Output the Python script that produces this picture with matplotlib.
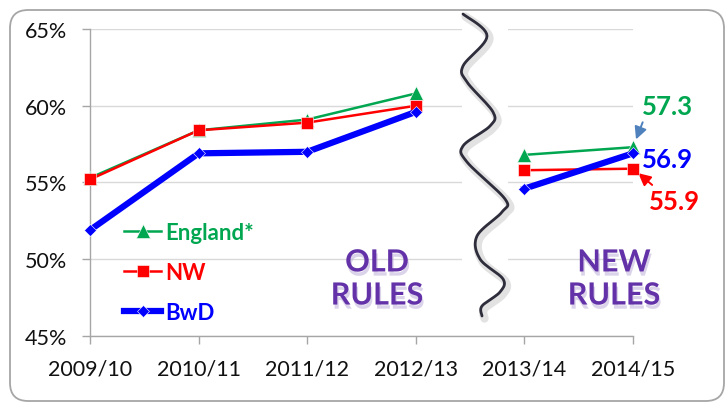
import numpy as np
import matplotlib
matplotlib.use("Agg")
import matplotlib.pyplot as plt
import matplotlib.patheffects as pe
from matplotlib.patches import FancyBboxPatch, Rectangle
from matplotlib.ticker import FuncFormatter

# ---- data -------------------------------------------------------------
years = ["2009/10", "2010/11", "2011/12", "2012/13", "2013/14", "2014/15"]
england = [55.3, 58.4, 59.1, 60.8, 56.8, 57.3]
nw = [55.2, 58.4, 58.9, 60.0, 55.8, 55.9]
bwd = [51.9, 56.9, 57.0, 59.6, 54.6, 56.9]
y_ticks = [45, 50, 55, 60, 65]
old_idx = [0, 1, 2, 3]   # years counted under the old rules
new_idx = [4, 5]         # years counted under the new rules

GREEN = "#00A650"
RED = "#FF0000"
BLUE = "#0000FF"
PURPLE = "#6332A8"

plt.rcParams["font.family"] = ["Lato", "DejaVu Sans"]

W, H = 726, 406
fig = plt.figure(figsize=(W / 100, H / 100), dpi=100)
fig.patch.set_facecolor("white")

def fx(px):
    return px / W

def fy(py):
    return 1 - py / H

ax = fig.add_axes([fx(90), fy(337), fx(633) - fx(90), fy(30) - fy(337)])
x = np.arange(len(years))

series = [
    ("England*", england, GREEN, "^", 9.5, 1.8),
    ("NW", nw, RED, "s", 8.5, 1.8),
    ("BwD", bwd, BLUE, "D", 6.0, 4.5),
]
handles = []
for z, (label, vals, col, mk, ms, lw) in enumerate(series):
    vals = np.asarray(vals)
    for k, idx in enumerate((old_idx, new_idx)):
        ln, = ax.plot(x[idx], vals[idx], color=col, lw=lw, marker=mk, ms=ms,
                      mec="white", mew=0.4, zorder=3 + z, clip_on=False,
                      label=label if k == 0 else None)
        if k == 0:
            handles.append(ln)

ax.set_xlim(0, 5)
ax.set_ylim(45, 65)
ax.set_xticks(x)
ax.set_xticklabels(years)
ax.set_yticks(y_ticks)
ax.yaxis.set_major_formatter(FuncFormatter(lambda v, p: f"{v:.0f}%"))
ax.tick_params(axis="both", labelsize=15.5, colors="#A6A6A6", labelcolor="#111111",
               length=5.5, width=1)
ax.tick_params(axis="y", pad=11)
ax.tick_params(axis="x", pad=11)
ax.grid(axis="y", color="#D9D9D9", lw=1)
ax.set_axisbelow(True)
for s in ("top", "right"):
    ax.spines[s].set_visible(False)
for s in ("left", "bottom"):
    ax.spines[s].set_color("#A6A6A6")
    ax.spines[s].set_linewidth(1)

# white band that breaks the gridlines where the timeline is cut
ax.add_patch(Rectangle((fx(462), fy(334)), fx(508) - fx(462), fy(12) - fy(334),
                       transform=fig.transFigure, facecolor="white",
                       edgecolor="none", zorder=1, clip_on=False))

# legend inside the plot
leg = ax.legend(handles=handles, loc="upper left", bbox_to_anchor=(0.062, 0.372),
                frameon=False, borderpad=0, borderaxespad=0, handlelength=1.7,
                handletextpad=0.15, labelspacing=0.85, numpoints=1,
                prop={"weight": "bold", "size": 16}, labelcolor="linecolor")

# wavy break between the old and the new rules
wave_pts = np.array([(463, 15), (487, 37), (463, 67), (467, 83), (493, 113),
                     (490, 127), (463, 147), (467, 163), (505, 200), (502, 213),
                     (477, 237), (480, 260), (503, 280), (500, 293), (482, 307),
                     (482, 317)], dtype=float)

def catmull_rom(p, n=12):
    p = np.vstack([p[0], p, p[-1]])
    out = []
    for i in range(1, len(p) - 2):
        p0, p1, p2, p3 = p[i - 1], p[i], p[i + 1], p[i + 2]
        t = np.linspace(0, 1, n, endpoint=False)[:, None]
        out.append(0.5 * ((2 * p1) + (-p0 + p2) * t + (2 * p0 - 5 * p1 + 4 * p2 - p3) * t ** 2
                          + (-p0 + 3 * p1 - 3 * p2 + p3) * t ** 3))
    out.append(p[-2][None, :])
    return np.vstack(out)

curve = catmull_rom(wave_pts)
cx, cy = fx(curve[:, 0]), fy(curve[:, 1])
fig.add_artist(plt.Line2D(cx + fx(2.5), cy - 2.5 / H, transform=fig.transFigure,
                          color="#CFCFCF", lw=6, alpha=0.6, solid_capstyle="round", zorder=5))
fig.add_artist(plt.Line2D(cx, cy, transform=fig.transFigure, color="#2E2D3C",
                          lw=2.0, solid_capstyle="round", zorder=6))

# "OLD RULES" / "NEW RULES" captions
rule_fx = [pe.SimplePatchShadow(offset=(1.0, -3), shadow_rgbFace="#B8A8D4", alpha=0.5),
           pe.Normal()]
for cx_, label in ((377, "OLD\nRULES"), (614, "NEW\nRULES")):
    fig.text(fx(cx_), fy(280), label, ha="center", va="center", fontsize=22,
             fontweight="bold", color=PURPLE, linespacing=1.22, path_effects=rule_fx)

# value call-outs for the latest year
last = len(years) - 1
ax.annotate(f"{england[last]:.1f}", xy=(last, england[last]), xytext=(25, 29.5),
            textcoords="offset points", ha="center", va="center", fontsize=18.5,
            fontweight="bold", color=GREEN, annotation_clip=False,
            arrowprops=dict(arrowstyle="-|>,head_length=0.4,head_width=0.2",
                            color="#4F81BD", lw=1.4, shrinkA=1, shrinkB=6,
                            relpos=(0.05, 0.05)))
ax.annotate(f"{bwd[last]:.1f}", xy=(last, bwd[last]), xytext=(6.5, -4),
            textcoords="offset points", ha="left", va="center", fontsize=18.5,
            fontweight="bold", color=BLUE, annotation_clip=False)
ax.annotate(f"{nw[last]:.1f}", xy=(last, nw[last]), xytext=(30, -23),
            textcoords="offset points", ha="center", va="center", fontsize=18.5,
            fontweight="bold", color=RED, annotation_clip=False,
            arrowprops=dict(arrowstyle="-|>,head_length=0.4,head_width=0.2",
                            color=RED, lw=1.4, shrinkA=1, shrinkB=5,
                            relpos=(0.2, 0.9)))

# rounded outer frame
frame = FancyBboxPatch((fx(10), fy(402)), fx(724) - fx(10), fy(11) - fy(402),
                       boxstyle="round,pad=0,rounding_size=0.025",
                       transform=fig.transFigure, facecolor="none",
                       edgecolor="#A6A6A6", lw=1.3, zorder=10,
                       mutation_aspect=W / H)
fig.add_artist(frame)

fig.savefig("out.png", dpi=100)
